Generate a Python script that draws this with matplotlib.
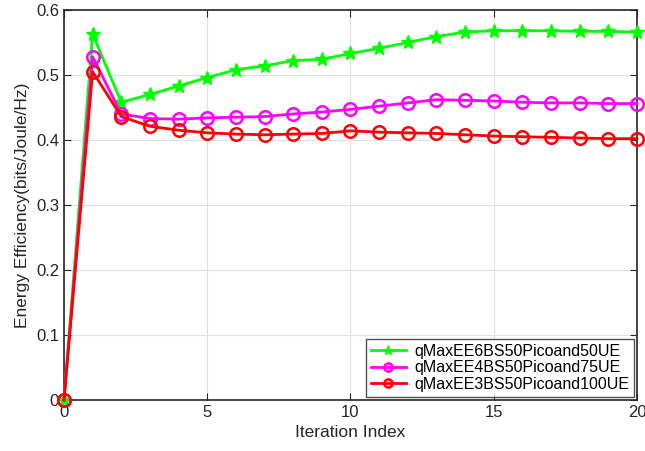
import matplotlib
matplotlib.use('Agg')
import matplotlib.pyplot as plt

plt.rcParams['font.family'] = ['Liberation Sans', 'DejaVu Sans']

iters = list(range(21))
ee_6bs = [0, 0.563, 0.458, 0.470, 0.483, 0.496, 0.508, 0.514, 0.522, 0.524, 0.533,
          0.541, 0.550, 0.559, 0.566, 0.568, 0.568, 0.568, 0.567, 0.567, 0.566]
ee_4bs = [0, 0.528, 0.440, 0.433, 0.432, 0.434, 0.435, 0.436, 0.440, 0.443, 0.447,
          0.452, 0.457, 0.462, 0.461, 0.460, 0.458, 0.457, 0.457, 0.456, 0.456]
ee_3bs = [0, 0.505, 0.436, 0.421, 0.415, 0.411, 0.409, 0.408, 0.409, 0.410, 0.414,
          0.412, 0.411, 0.410, 0.408, 0.406, 0.405, 0.404, 0.403, 0.402, 0.402]
labels = ['qMaxEE6BS50Picoand50UE', 'qMaxEE4BS50Picoand75UE', 'qMaxEE3BS50Picoand100UE']

fig = plt.figure(figsize=(6.45, 4.51), dpi=100)
ax = fig.add_axes([0.0992, 0.113, 0.8884, 0.865])

ax.plot(iters, ee_6bs, '-*', color='#00ff00', lw=2, ms=10, mfc='#00ff00',
        label=labels[0], clip_on=False, zorder=3)
ax.plot(iters, ee_4bs, '-o', color='#ff00ff', lw=2, ms=9, mfc='none', mew=1.8,
        label=labels[1], clip_on=False, zorder=3)
ax.plot(iters, ee_3bs, '-o', color='#ff0000', lw=2, ms=9, mfc='none', mew=1.8,
        label=labels[2], clip_on=False, zorder=3)

ax.set_xlim(0, 20)
ax.set_ylim(0, 0.6)
ax.set_xticks([0, 5, 10, 15, 20])
ax.set_yticks([0, 0.1, 0.2, 0.3, 0.4, 0.5, 0.6])
ax.set_yticklabels(['0', '0.1', '0.2', '0.3', '0.4', '0.5', '0.6'])
ax.grid(True, color='#e0e0e0', lw=0.8)
ax.tick_params(direction='in', top=True, right=True, labelsize=12, colors='#262626', length=5)
for s in ax.spines.values():
    s.set_color('#262626')
    s.set_linewidth(1.2)

ax.set_xlabel('Iteration Index', fontsize=12.5, color='#262626')
ax.set_ylabel('Energy Efficiency(bits/Joule/Hz)', fontsize=12.5, color='#262626')

leg = ax.legend(loc='lower right', fontsize=11.5, fancybox=False, edgecolor='#262626',
                borderaxespad=0.2, handlelength=2.2, labelspacing=0.1, borderpad=0.3,
                markerscale=0.65, handletextpad=0.5)
leg.get_frame().set_linewidth(1.0)
leg.set_zorder(5)

fig.savefig('out.png', dpi=100)
